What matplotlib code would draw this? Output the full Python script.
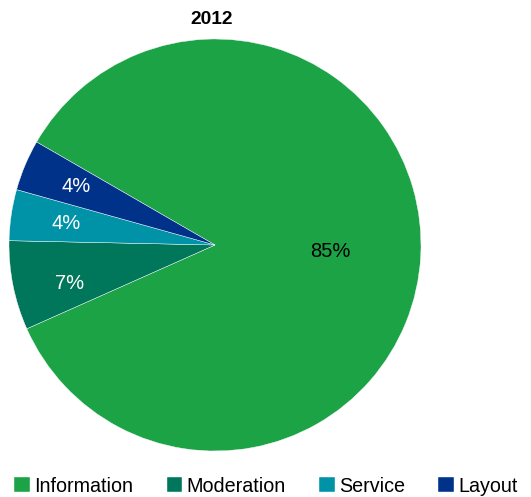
import matplotlib.pyplot as plt
import numpy as np

plt.rcParams['font.family'] = ['Liberation Sans', 'DejaVu Sans']

categorias = ['Information', 'Moderation', 'Service', 'Layout']
valores = [85, 7, 4, 4]
colores = ['#1ba346', '#00765a', '#0093a8', '#003289']
titulo = '2012'

fig = plt.figure(figsize=(5.31, 4.97), dpi=100)
ax = fig.add_axes([9/531, 46/497, 412/531, 412/497])

wedges, textos, pcts = ax.pie(valores, colors=colores, startangle=150, counterclock=False,
                              autopct='%1.0f%%', pctdistance=0.73, radius=1,
                              wedgeprops={'edgecolor': 'white', 'linewidth': 0.3},
                              textprops={'fontsize': 14.5})
ax.set_xlim(-1, 1)
ax.set_ylim(-1, 1)
ax.set_aspect('equal')

# etiqueta grande mas cerca del centro, en negro
for w, t in zip(wedges, pcts):
    t.set_color('white')
w0 = wedges[0]
ang = np.deg2rad((w0.theta1 + w0.theta2) / 2)
pcts[0].set_position((0.56 * np.cos(ang), 0.56 * np.sin(ang)))
pcts[0].set_color('black')
# la de Moderation un poco mas abajo, como en el original
w1 = wedges[1]
ang1 = np.deg2rad((w1.theta1 + w1.theta2) / 2 + 3.5)
pcts[1].set_position((0.73 * np.cos(ang1), 0.73 * np.sin(ang1)))

fig.text(212/531, 1 - 20/497, titulo, ha='center', va='center', fontsize=13.8, fontweight='bold')

fig.legend(wedges, categorias, loc='center', bbox_to_anchor=(266/531, 11/497), ncol=4,
           frameon=False, fontsize=14.2, handlelength=0.8, handleheight=0.8,
           handletextpad=0.2, columnspacing=1.7, borderaxespad=0)

fig.savefig('out.png', dpi=100)
